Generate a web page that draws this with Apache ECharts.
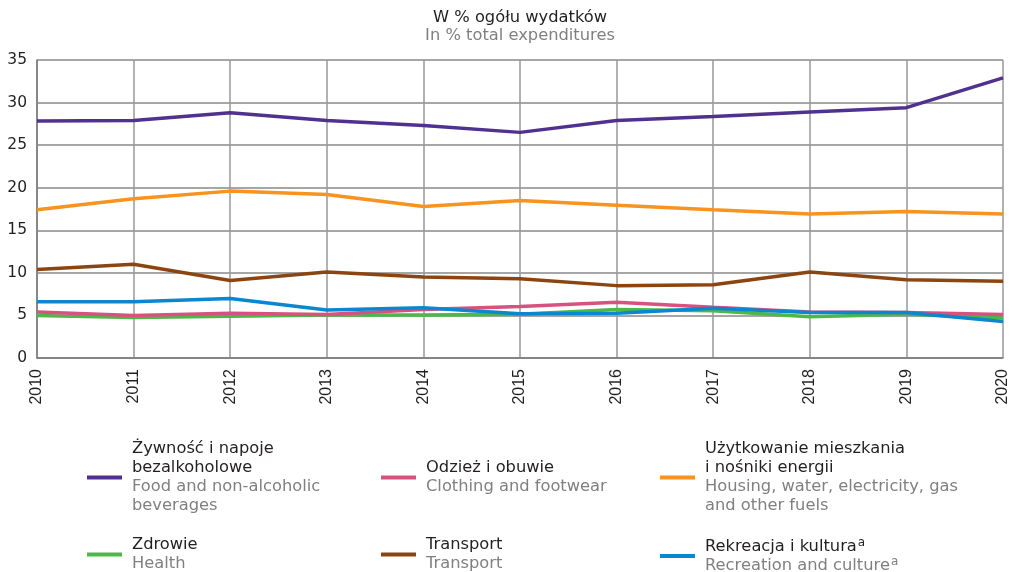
<!DOCTYPE html>
<html>
<head>
<meta charset="utf-8">
<script src="https://cdn.jsdelivr.net/npm/echarts@6/dist/echarts.min.js"></script>
<style>html,body{margin:0;padding:0;background:#fff}#c{width:1016px;height:572px}</style>
</head>
<body>
<div id="c"></div>
<script>
const years = ['2010','2011','2012','2013','2014','2015','2016','2017','2018','2019','2020'];
const food      = [27.85, 27.9, 28.8, 27.9, 27.3, 26.5, 27.9, 28.35, 28.9, 29.4, 32.9];
const clothing  = [5.4, 5.0, 5.25, 5.1, 5.7, 6.05, 6.55, 5.95, 5.4, 5.35, 5.1];
const housing   = [17.4, 18.7, 19.6, 19.2, 17.8, 18.5, 17.95, 17.4, 16.9, 17.2, 16.9];
const health    = [5.0, 4.75, 4.9, 5.05, 5.05, 5.15, 5.7, 5.55, 4.85, 5.15, 4.7];
const transport = [10.4, 11.0, 9.1, 10.1, 9.5, 9.3, 8.5, 8.6, 10.1, 9.2, 9.0];
const recreation= [6.6, 6.6, 7.0, 5.65, 5.9, 5.2, 5.25, 5.85, 5.35, 5.35, 4.3];

const names = {
  food: ['Żywność i napoje', 'bezalkoholowe', 'Food and non-alcoholic', 'beverages'],
  clothing: ['Odzież i obuwie', 'Clothing and footwear'],
  housing: ['Użytkowanie mieszkania', 'i nośniki energii', 'Housing, water, electricity, gas', 'and other fuels'],
  health: ['Zdrowie', 'Health'],
  transport: ['Transport', 'Transport'],
  recreation: ['Rekreacja i kultura', 'Recreation and culture']
};

const colors = {
  food: '#51318f', clothing: '#d8527f', housing: '#f7931e',
  health: '#4cb848', transport: '#8c4510', recreation: '#0a87cf'
};

const FONT = '"DejaVu Sans", sans-serif';
const FONT_AX = '"Liberation Sans", Arial, sans-serif';
const DARK = '#231f20';
const GRAY = '#808080';

const seriesDefs = [
  ['food', food], ['clothing', clothing], ['housing', housing],
  ['health', health], ['transport', transport], ['recreation', recreation]
];
const drawOrder = ['food', 'housing', 'transport', 'health', 'clothing', 'recreation'];

const series = drawOrder.map(k => ({
  name: k,
  type: 'line',
  data: seriesDefs.find(s => s[0] === k)[1],
  symbol: 'none',
  lineStyle: { width: 3.5, color: colors[k] },
  itemStyle: { color: colors[k] },
  z: 3
}));

function fmt(k) {
  const n = names[k];
  if (k === 'food' || k === 'housing') return `{a|${n[0]}}\n{a|${n[1]}}\n{b|${n[2]}}\n{b|${n[3]}}`;
  if (k === 'recreation') return `{a|${n[0]}}{sa|a}\n{b|${n[1]}}{sb|a}`;
  return `{a|${n[0]}}\n{b|${n[1]}}`;
}

const FS = 16.3;
const rich = {
  a: { fontFamily: FONT, fontSize: FS, color: DARK, lineHeight: 19 },
  b: { fontFamily: FONT, fontSize: FS, color: GRAY, lineHeight: 19 },
  sa: { fontFamily: FONT, fontSize: 12, color: DARK, lineHeight: 19, verticalAlign: 'top', padding: [0, 0, 8, 1] },
  sb: { fontFamily: FONT, fontSize: 12, color: GRAY, lineHeight: 19, verticalAlign: 'top', padding: [0, 0, 8, 1] }
};

const legendPos = {
  food: [87, 441], clothing: [381, 460], housing: [660, 441],
  health: [87, 537], transport: [381, 537], recreation: [660, 537]
};

const legends = Object.keys(legendPos).map(k => ({
  data: [{ name: k, icon: 'rect' }],
  left: legendPos[k][0],
  top: legendPos[k][1],
  padding: 0,
  itemWidth: 35,
  itemHeight: 4,
  selectedMode: false,
  formatter: () => fmt(k),
  textStyle: { rich, fontFamily: FONT, fontSize: FS, padding: [0, 0, 0, 5] }
}));

const chart = echarts.init(document.getElementById('c'), null, { renderer: 'canvas' });
chart.setOption({
  animation: false,
  backgroundColor: '#fff',
  title: {
    text: 'W % ogółu wydatków',
    subtext: 'In % total expenditures',
    left: 520,
    textAlign: 'center',
    top: 9,
    itemGap: 0,
    padding: 0,
    textStyle: { fontFamily: FONT, fontSize: FS, fontWeight: 'normal', color: DARK, lineHeight: 18 },
    subtextStyle: { fontFamily: FONT, fontSize: FS, color: GRAY, lineHeight: 18 }
  },
  legend: legends,
  grid: { left: 37, right: 13, top: 60, bottom: 214, containLabel: false },
  xAxis: {
    type: 'category',
    data: years,
    boundaryGap: false,
    axisLine: { lineStyle: { color: '#7a7a7a', width: 1.5 } },
    axisTick: { show: false },
    splitLine: { show: true, lineStyle: { color: '#999', width: 1.5 } },
    axisLabel: { rotate: 90, fontFamily: FONT_AX, fontSize: 16, color: DARK, margin: 11 }
  },
  yAxis: {
    type: 'value',
    min: 0, max: 35, interval: 5,
    axisLine: { show: true, lineStyle: { color: '#7a7a7a', width: 1.5 } },
    axisTick: { show: false },
    splitLine: { show: true, lineStyle: { color: '#888', width: 1.5 } },
    axisLabel: { fontFamily: FONT, fontSize: 15.5, color: DARK, margin: 10 }
  },
  series
});
</script>
</body>
</html>
